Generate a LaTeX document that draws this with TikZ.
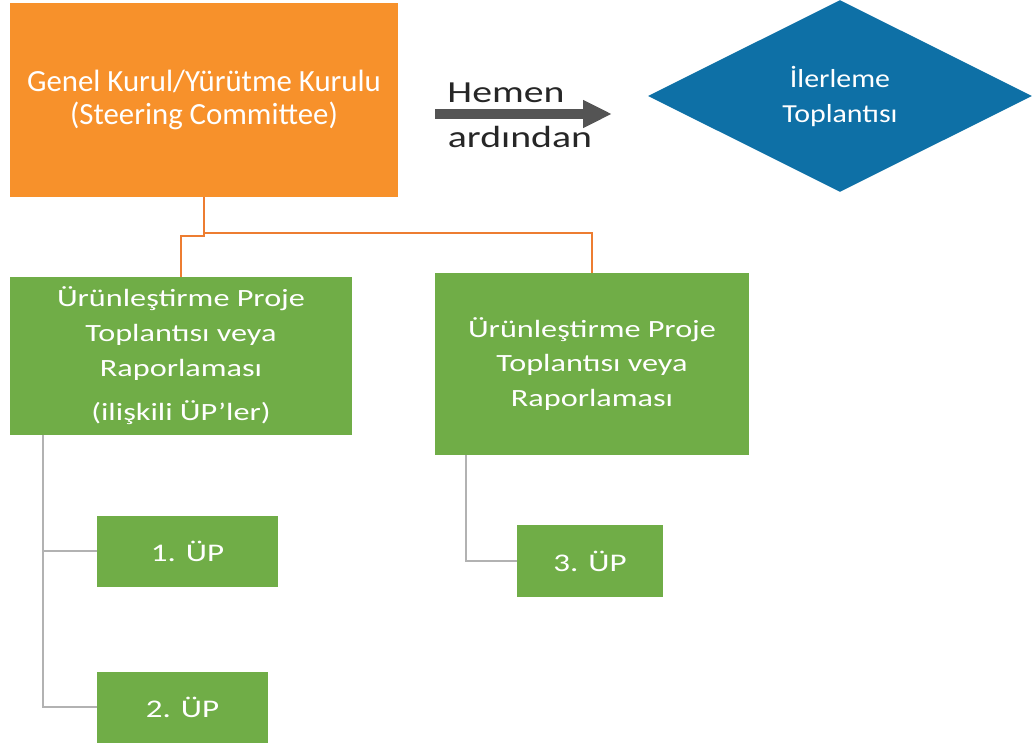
\documentclass[tikz,border=0pt]{standalone}
\usepackage{fontspec}
\setmainfont{Carlito}
\newfontfamily\widefont{Carlito}[FakeStretch=1.3]
\newfontfamily\diafont{Carlito}[FakeStretch=1.15]
\usetikzlibrary{shapes.geometric,arrows.meta}
\definecolor{kurulorange}{RGB}{247,145,43}
\definecolor{projegreen}{RGB}{112,173,71}
\definecolor{toplantiblue}{RGB}{14,112,166}
\definecolor{arrowgray}{RGB}{84,84,84}
\definecolor{lineorange}{RGB}{237,125,49}
\definecolor{linegray}{RGB}{178,178,178}

\begin{document}
\begin{tikzpicture}[x=0.5pt,y=-0.5pt,
  box node/.style={rectangle,inner sep=0pt,text=white,align=center},
  orange node/.style={box node,fill=kurulorange,font=\fontsize{15.4}{16.5}\selectfont},
  green node/.style={box node,fill=projegreen,font=\widefont\fontsize{12.4}{17.3}\selectfont},
  up node/.style={box node,fill=projegreen,font=\widefont\fontsize{12.7}{15}\selectfont},
  orange line/.style={draw=lineorange,line width=1pt},
  gray line/.style={draw=linegray,line width=1pt}]
\useasboundingbox (0,0) rectangle (1034,747);

% top row
  \node[orange node,minimum width=194pt,minimum height=97pt] (kurul) at (204,100)
    {Genel Kurul/Yürütme Kurulu\\(Steering Committee)};
  \node[diamond,fill=toplantiblue,text=white,inner sep=0pt,align=center,
    minimum width=192pt,minimum height=96pt,
    font=\diafont\fontsize{13}{17.5}\selectfont] (ilerleme) at (840,96) {İlerleme\\Toplantısı};

  \coordinate (hS) at (435,114);
  \coordinate (hE) at (612,114);
  \draw[arrowgray,line width=5pt,-{Triangle[length=14.5pt,width=13pt]}] (hS) -- (hE);
  \node[inner sep=0pt,text=black!85,font=\widefont\fontsize{15.3}{18}\selectfont] (hemen) at (506,93) {Hemen};
  \node[inner sep=0pt,text=black!85,font=\widefont\fontsize{15.3}{18}\selectfont] (ardindan) at (520,137) {ardından};

% project meetings
  \node[green node,minimum width=171pt,minimum height=79pt] (proje1) at (181,356)
    {Ürünleştirme Proje\\Toplantısı veya\\Raporlaması\\[5pt](ilişkili ÜP’ler)};
  \node[green node,minimum width=157pt,minimum height=91pt] (proje2) at (592,364)
    {Ürünleştirme Proje\\Toplantısı veya\\Raporlaması};

  \coordinate (jog) at (204,233);
  \draw[orange line] (kurul.south) -- (jog) -| (proje2.north);
  \draw[orange line] (jog) -- ++(0,3) -| (proje1.north);

% sub projects
  \node[up node,minimum width=90.5pt,minimum height=35.5pt] (up1) at (187.5,551.5) {1. ÜP};
  \node[up node,minimum width=85.5pt,minimum height=35.5pt] (up2) at (182.5,707.5) {2. ÜP};
  \node[up node,minimum width=73pt,minimum height=36pt] (up3) at (590,561) {3. ÜP};

  \coordinate (stem1) at (43,435);
  \coordinate (stem3) at (466,455);
  \draw[gray line] (stem1) |- (up1.west);
  \draw[gray line] (stem1) |- (up2.west);
  \draw[gray line] (stem3) |- (up3.west);

\end{tikzpicture}
\end{document}
